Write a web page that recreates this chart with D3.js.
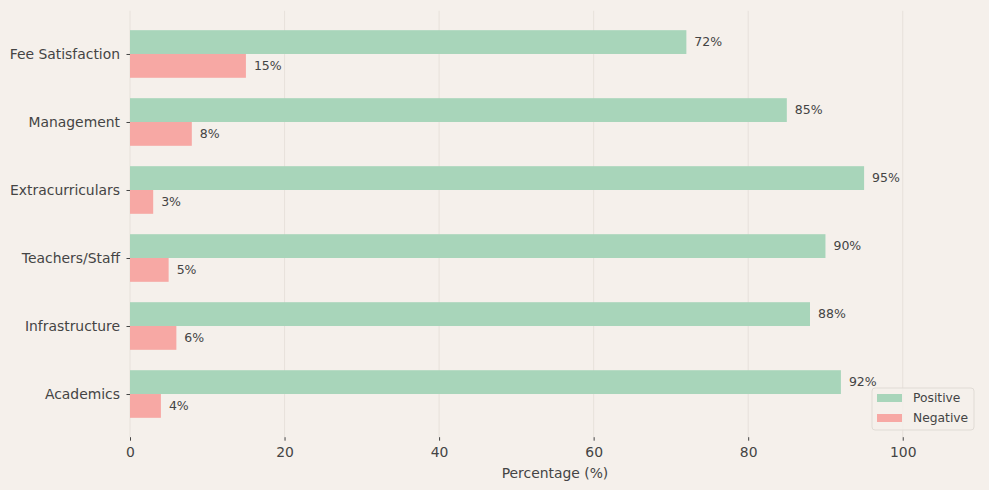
<!DOCTYPE html>
<html><head><meta charset="utf-8">
<script src="https://d3js.org/d3.v7.min.js"></script>
<style>body{margin:0;background:#f5f0eb;}svg{display:block;font-family:"DejaVu Sans",sans-serif;}</style>
</head><body><svg id="c" width="989" height="490"></svg>
<script>
const categories = ["Academics","Infrastructure","Teachers/Staff","Extracurriculars","Management","Fee Satisfaction"];
const positive = [92,88,90,95,85,72];
const negative = [4,6,5,3,8,15];
const xTicks = [0,20,40,60,80,100];
const seriesNames = ["Positive","Negative"];
const colors = ["#a8d5ba","#f7a8a4"];

const svg = d3.select("#c");
const W=989,H=490, L=130, R=980, T=10.8, B=437.2;
svg.append("rect").attr("width",W).attr("height",H).attr("fill","#f5f0eb");
const x = d3.scaleLinear().domain([0,110]).range([L,R]);
const y = d3.scaleLinear().domain([-0.635,5.635]).range([B,T]);
const bh = 0.35;
const g = svg.append("g");
// grid
g.selectAll(".grid").data(xTicks).enter().append("line")
 .attr("x1",d=>x(d)).attr("x2",d=>x(d)).attr("y1",T).attr("y2",B)
 .attr("stroke","#e3ddd7").attr("stroke-width",0.8);
// bars
categories.forEach((c,i)=>{
  g.append("rect").attr("x",x(0)).attr("y",y(i+bh)).attr("width",x(positive[i])-x(0)).attr("height",y(i)-y(i+bh)).attr("fill",colors[0]);
  g.append("rect").attr("x",x(0)).attr("y",y(i)).attr("width",x(negative[i])-x(0)).attr("height",y(i-bh)-y(i)).attr("fill",colors[1]);
  g.append("text").attr("x",x(positive[i])+8).attr("y",y(i+bh/2)).attr("dy","0.35em").attr("font-size",12.5).attr("fill","#444").text(positive[i]+"%");
  g.append("text").attr("x",x(negative[i])+8).attr("y",y(i-bh/2)).attr("dy","0.35em").attr("font-size",12.5).attr("fill","#444").text(negative[i]+"%");
});
// x axis
const xa = svg.append("g").attr("transform",`translate(0,${B})`)
 .call(d3.axisBottom(x).tickValues(xTicks).tickSize(3.5).tickPadding(6).tickFormat(d3.format("d")));
xa.select(".domain").remove();
xa.selectAll("line").attr("stroke","#444");
xa.selectAll("text").attr("font-size",13.9).attr("fill","#444").attr("font-family","DejaVu Sans");
// y axis
const ya = svg.append("g").attr("transform",`translate(${L},0)`)
 .call(d3.axisLeft(y).tickValues(d3.range(categories.length)).tickSize(3.5).tickPadding(6.5).tickFormat(i=>categories[i]));
ya.select(".domain").remove();
ya.selectAll("line").attr("stroke","#444");
ya.selectAll("text").attr("font-size",13.9).attr("fill","#444").attr("font-family","DejaVu Sans");
svg.append("text").attr("x",(L+R)/2).attr("y",478).attr("text-anchor","middle").attr("font-size",13.9).attr("fill","#444").text("Percentage (%)");
// legend
const lg = svg.append("g").attr("transform","translate(872,388)");
lg.append("rect").attr("width",102).attr("height",42).attr("rx",3).attr("fill","#f5f0eb").attr("fill-opacity",0.8).attr("stroke","#e0dbd5");
seriesNames.forEach((s,i)=>{
  lg.append("rect").attr("x",5).attr("y",6+i*20).attr("width",25).attr("height",8).attr("fill",colors[i]);
  lg.append("text").attr("x",41).attr("y",10+i*20).attr("dy","0.35em").attr("font-size",12.3).attr("fill","#444").text(s);
});
</script></body></html>
